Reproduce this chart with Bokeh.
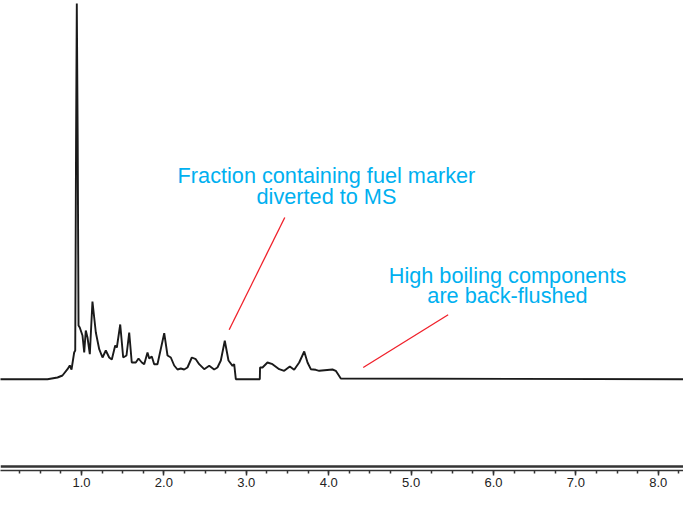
from bokeh.plotting import figure
from bokeh.models import Range1d, Span, Label, Segment, ColumnDataSource, SingleIntervalTicker, NumeralTickFormatter
from bokeh.embed import file_html
from bokeh.resources import INLINE

# Retention time (min) and detector response (arbitrary units)
time_min = [0.000, 0.587, 0.709, 0.769, 0.830, 0.858, 0.879, 0.911, 0.924, 0.934, 0.943, 0.954, 0.964,
            0.979, 1.012, 1.033, 1.052, 1.073, 1.101, 1.133, 1.174, 1.215, 1.255, 1.295, 1.336, 1.368,
            1.409, 1.429, 1.470, 1.506, 1.546, 1.579, 1.610, 1.659, 1.692, 1.732, 1.761, 1.801, 1.822,
            1.853, 1.882, 1.922, 2.004, 2.044, 2.084, 2.125, 2.165, 2.205, 2.246, 2.286, 2.339, 2.387,
            2.428, 2.489, 2.550, 2.610, 2.650, 2.691, 2.739, 2.784, 2.833, 2.853, 2.873, 3.164, 3.167,
            3.197, 3.257, 3.318, 3.399, 3.460, 3.528, 3.581, 3.642, 3.703, 3.743, 3.783, 3.843, 3.885,
            4.046, 4.086, 4.147, 8.400]
response = [0.0, 0.0, 1.7, 3.7, 10.0, 13.7, 9.7, 26.7, 28.7, 236.7, 375.7, 236.7, 53.7,
            51.7, 43.7, 26.7, 48.7, 41.7, 25.0, 77.7, 46.7, 30.0, 21.7, 28.7, 21.7, 19.7,
            33.7, 31.7, 54.7, 21.7, 23.7, 46.7, 16.7, 16.7, 20.7, 16.7, 15.0, 26.7, 20.7,
            22.7, 15.0, 15.0, 46.0, 23.7, 21.7, 13.7, 9.7, 10.7, 9.7, 11.7, 21.7, 20.0,
            15.0, 10.0, 13.4, 9.7, 11.7, 18.7, 38.4, 18.7, 13.4, 15.0, 0.0, 0.0, 11.7,
            11.7, 16.7, 15.0, 10.0, 8.4, 12.7, 9.4, 16.7, 27.7, 16.7, 10.0, 9.4, 8.4,
            9.7, 8.4, 0.7, 0.0]

# Annotations: texts, anchor (time, response) and pointer segments
note1_lines = ["Fraction containing fuel marker", "diverted to MS"]
note1_x = 3.973
note1_y = [203.4, 182.7]
note2_lines = ["High boiling components", "are back-flushed"]
note2_x = 6.170
note2_y = [103.4, 83.4]
pointer_x0 = [2.792, 4.419]
pointer_y0 = [49.4, 11.7]
pointer_x1 = [3.467, 5.450]
pointer_y1 = [161.7, 64.4]

x_start, x_end = 0.017, 8.306
y_start, y_end = -91.3, 378.7

p = figure(frame_width=683, frame_height=470, output_backend="svg", toolbar_location=None,
           x_range=Range1d(x_start, x_end), y_range=Range1d(y_start, y_end),
           min_border_left=0, min_border_right=0, min_border_top=0, min_border_bottom=0)
p.outline_line_color = None
p.background_fill_color = "white"
p.border_fill_color = "white"
p.grid.visible = False
p.yaxis.visible = False

p.line(time_min, response, line_color="#1a1a1a", line_width=1.9)

# thick rule just above the time axis
p.add_layout(Span(location=y_start + 4, dimension="width", line_color="#333333", line_width=2.5))

src = ColumnDataSource(dict(x0=pointer_x0, y0=pointer_y0, x1=pointer_x1, y1=pointer_y1))
p.add_glyph(src, Segment(x0="x0", y0="y0", x1="x1", y1="y1", line_color="#f0202a", line_width=1.3))

for txt, yy in zip(note1_lines, note1_y):
    p.add_layout(Label(x=note1_x, y=yy, text=txt, text_align="center", text_baseline="alphabetic",
                       text_font="Liberation Sans", text_font_size="21.7px", text_color="#00b0f0"))
for txt, yy in zip(note2_lines, note2_y):
    p.add_layout(Label(x=note2_x, y=yy, text=txt, text_align="center", text_baseline="alphabetic",
                       text_font="Liberation Sans", text_font_size="21.7px", text_color="#00b0f0"))

ax = p.xaxis[0]
ax.ticker = SingleIntervalTicker(interval=1, num_minor_ticks=4)
ax.formatter = NumeralTickFormatter(format="0.0")
ax.axis_line_color = "#333333"
ax.axis_line_width = 1.5
ax.major_tick_line_color = "#333333"
ax.major_tick_line_width = 1.5
ax.minor_tick_line_color = "#333333"
ax.minor_tick_line_width = 1.5
ax.major_tick_in = 0
ax.major_tick_out = 5
ax.minor_tick_in = 0
ax.minor_tick_out = 3
ax.major_label_standoff = 2
ax.major_label_text_font = "Liberation Sans"
ax.major_label_text_font_size = "13px"
ax.major_label_text_color = "#222222"

open("out.html", "w").write(file_html(p, INLINE))
